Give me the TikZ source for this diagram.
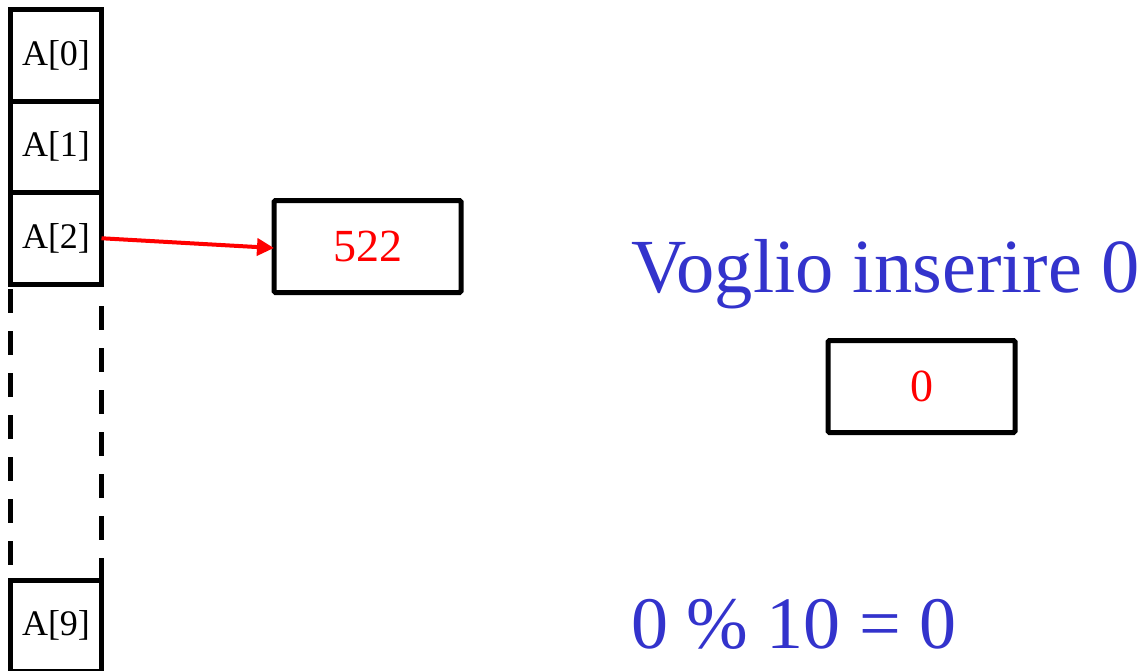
\documentclass[tikz,border=0pt]{standalone}
\usepackage{fontspec}
\setmainfont{Liberation Serif}
\usetikzlibrary{arrows.meta,positioning}
\definecolor{msgblue}{RGB}{51,51,204}
\tikzset{
  cell/.style  = {draw=black, line width=5pt, minimum width=91pt, minimum height=91.5pt,
                  inner sep=0pt, outer sep=0pt, font=\fontsize{36}{40}\selectfont},
  valbox/.style = {draw=black, line width=5pt, rounded corners=1.5pt, minimum width=187pt,
                  minimum height=92pt, inner sep=0pt, outer sep=0pt, text=red,
                  font=\fontsize{46}{50}\selectfont},
  msg/.style   = {text=msgblue, inner sep=0pt, font=\fontsize{74}{80}\selectfont},
  gap/.style   = {line width=5pt, dash pattern=on 24pt off 18pt},
  arr/.style   = {-{Triangle[length=17pt,width=17pt]}, draw=red, line width=4pt},
}
\begin{document}
\begin{tikzpicture}[x=1pt,y=-1pt]
  \useasboundingbox (0,0) rectangle (1141,670);
  \node[cell, anchor=north west] (cell0) at (10.5,9.5) {A[0]};
  \node[cell, below=0pt of cell0] (cell1) {A[1]};
  \node[cell, below=0pt of cell1] (cell2) {A[2]};
  \node[cell, anchor=north west] (cell9) at (10.5,580) {A[9]};
  \node[valbox] (v522) at (367.5,246.5) {522};
  \node[valbox] (vzero) at (921.5,386.5) {0};
  \node[msg, anchor=base west, font=\fontsize{76.5}{80}\selectfont] (want) at (631,292) {Voglio inserire 0};
  \node[msg, anchor=base west] (hash) at (631,648) {0 \% 10 = 0};
  \draw[gap] ([yshift=-5pt]cell2.south west) -- (cell9.north west);
  \draw[gap] ([yshift=-22pt]cell2.south east) -- (cell9.north east);
  \draw[arr] (cell2.east) -- ([yshift=-1.5pt]v522.west);
\end{tikzpicture}
\end{document}
